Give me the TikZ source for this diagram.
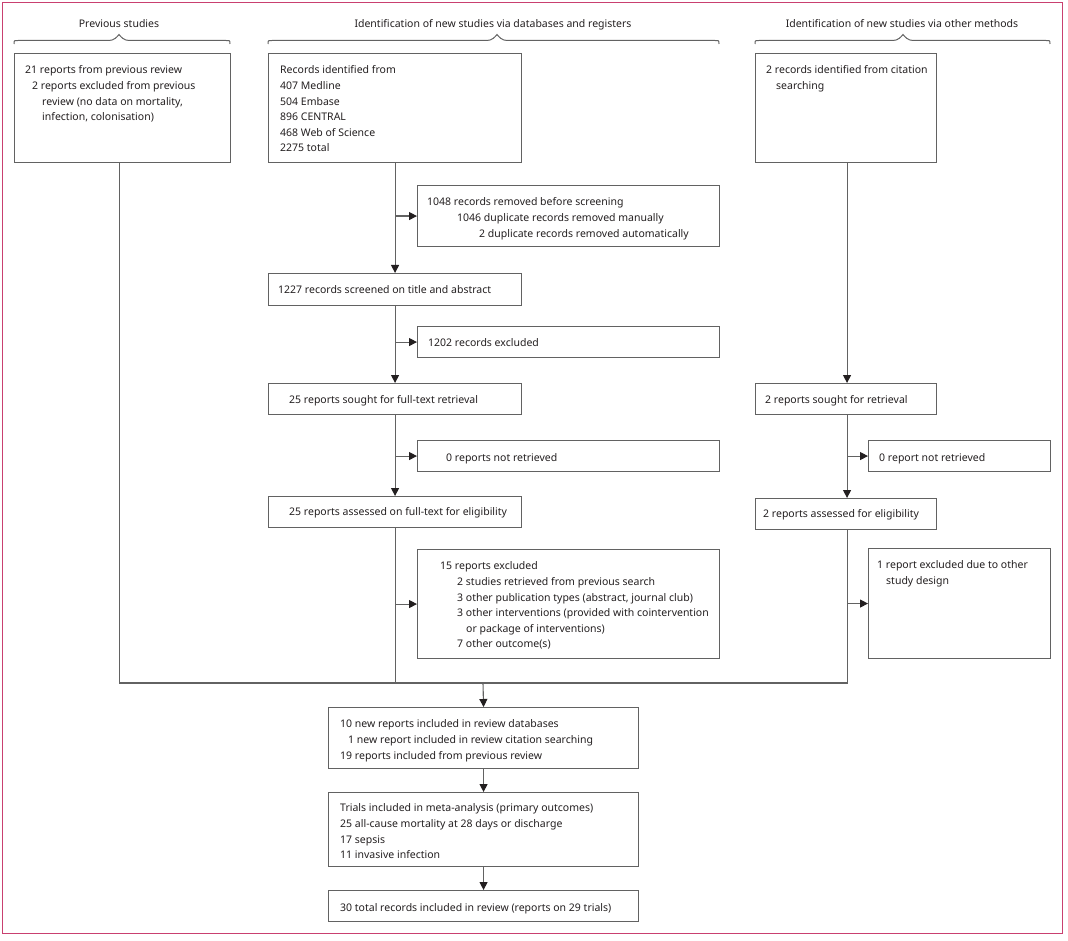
\documentclass[tikz,border=0pt]{standalone}
\usepackage{fontspec}
\setmainfont{Noto Sans}
\usetikzlibrary{arrows.meta}
\definecolor{txt}{HTML}{231F20}
\definecolor{ln}{HTML}{626262}
\definecolor{framec}{HTML}{C94070}
\newcommand\fnt{\fontsize{10.5}{15.6}\selectfont}
\newcommand\mybrace[3]{%
  \draw[bracel] (#1,44) .. controls (#1,40.5) .. ({#1+4},40.5) -- ({#3-10},40.5)
    .. controls ({#3-5},40.5) and ({#3-2},37) .. (#3,34.5)
    .. controls ({#3+2},37) and ({#3+5},40.5) .. ({#3+10},40.5)
    -- ({#2-4},40.5) .. controls (#2,40.5) .. (#2,44);}
\begin{document}
\begin{tikzpicture}[x=1pt,y=-1pt,
  box/.style={draw=ln, line width=1.1pt, rectangle, inner sep=0pt, anchor=north west},
  txtn/.style={anchor=north west, inner sep=0pt, align=left, text=txt, font=\fnt, yshift=6.3pt},
  one/.style={anchor=mid west, inner sep=0pt, text=txt, font=\fnt, yshift=-1.8pt},
  hdr/.style={anchor=mid, inner sep=0pt, text=txt, font=\fnt, yshift=-1.8pt},
  line/.style={draw=ln, line width=1.1pt},
  arr/.style={line, -{Triangle[length=8pt,width=8pt,color=txt]}},
  bracel/.style={draw=ln, line width=1pt}]
\useasboundingbox (0,0) rectangle (1068,941);
\draw[framec, line width=1.3pt] (2.5,2.5) rectangle (1062.5,933.5);

% headers
\node[hdr] (h1) at (119,23) {Previous studies};
\node[hdr] (h2) at (493,23) {Identification of new studies via databases and registers};
\node[hdr] (h3) at (902,23) {Identification of new studies via other methods};
\mybrace{14}{230}{119}
\mybrace{268}{719}{497}
\mybrace{755}{1050}{903}

% boxes
\node[box, minimum width=216pt, minimum height=109pt] (prev) at (14,53) {};
\node[box, minimum width=253pt, minimum height=109pt] (rec) at (268,53) {};
\node[box, minimum width=181pt, minimum height=109pt] (cit) at (755,53) {};
\node[box, minimum width=302pt, minimum height=61pt] (removed) at (417,185) {};
\node[box, minimum width=253pt, minimum height=32pt] (screened) at (268,273) {};
\node[box, minimum width=302pt, minimum height=31pt] (excla) at (417,326) {};
\node[box, minimum width=253pt, minimum height=31pt] (sought) at (268,383) {};
\node[box, minimum width=302pt, minimum height=31pt] (notret) at (417,440) {};
\node[box, minimum width=253pt, minimum height=31pt] (assessed) at (268,496) {};
\node[box, minimum width=302pt, minimum height=109pt] (exclb) at (417,549) {};
\node[box, minimum width=181pt, minimum height=31pt] (soughtb) at (755,383) {};
\node[box, minimum width=182pt, minimum height=31pt] (notretb) at (868,440) {};
\node[box, minimum width=181pt, minimum height=31pt] (assessedb) at (755,498) {};
\node[box, minimum width=182pt, minimum height=110pt] (exclc) at (868,548) {};
\node[box, minimum width=310pt, minimum height=61pt] (included) at (328,707) {};
\node[box, minimum width=310pt, minimum height=74pt] (trials) at (328,792) {};
\node[box, minimum width=310pt, minimum height=31pt] (total) at (328,890) {};

% texts
\node[txtn] (tprev) at (25,69) {\strut 21 reports from previous review\\
  \hspace*{7pt}2 reports excluded from previous\\
  \hspace*{17pt}review (no data on mortality,\\
  \hspace*{17pt}infection, colonisation)};
\node[txtn] (trec) at (280,69) {\strut Records identified from\\407 Medline\\504 Embase\\896 CENTRAL\\468 Web of Science\\2275 total};
\node[txtn] (tcit) at (766,69) {\strut 2 records identified from citation\\\hspace*{10pt}searching};
\node[txtn] (tremoved) at (427,201) {\strut 1048 records removed before screening\\
  \hspace*{30pt}1046 duplicate records removed manually\\
  \hspace*{52pt}2 duplicate records removed automatically};
\node[one] (tscreened) at (278,289) {1227 records screened on title and abstract};
\node[one] (texcla) at (428,342) {1202 records excluded};
\node[one] (tsought) at (289,399) {25 reports sought for full-text retrieval};
\node[one] (tnotret) at (446,457) {0 reports not retrieved};
\node[one] (tassessed) at (289,511) {25 reports assessed on full-text for eligibility};
\node[txtn] (texclb) at (440,565) {\strut 15 reports excluded\\
  \hspace*{17pt}2 studies retrieved from previous search\\
  \hspace*{17pt}3 other publication types (abstract, journal club)\\
  \hspace*{17pt}3 other interventions (provided with cointervention\\
  \hspace*{26pt}or package of interventions)\\
  \hspace*{17pt}7 other outcome(s)};
\node[one] (tsoughtb) at (765,399) {2 reports sought for retrieval};
\node[one] (tnotretb) at (879,457) {0 report not retrieved};
\node[one] (tassessedb) at (763,513) {2 reports assessed for eligibility};
\node[txtn] (texclc) at (877,564) {\strut 1 report excluded due to other\\\hspace*{9pt}study design};
\node[txtn] (tincluded) at (340,723) {\strut 10 new reports included in review databases\\
  \hspace*{8pt}1 new report included in review citation searching\\
  19 reports included from previous review};
\node[txtn] (ttrials) at (340,807) {\strut Trials included in meta-analysis (primary outcomes)\\
  25 all-cause mortality at 28 days or discharge\\17 sepsis\\11 invasive infection};
\node[one] (ttotal) at (340,907) {30 total records included in review (reports on 29 trials)};

% connectors
\coordinate (j) at (483,683);
\draw[arr] (rec.south) -- (screened.north);
\draw[arr] (rec.south |- removed.west) -- (removed.west);
\draw[arr] (screened.south) -- (sought.north);
\draw[arr] (screened.south |- excla.west) -- (excla.west);
\draw[arr] (sought.south) -- (assessed.north);
\draw[arr] (sought.south |- notret.west) -- (notret.west);
\draw[line] (assessed.south) |- (j);
\draw[arr] (assessed.south |- exclb.west) -- (exclb.west);
\draw[line] ([xshift=-3.5pt]prev.south) |- (j);
\draw[arr] ([xshift=1pt]cit.south) -- ([xshift=1pt]soughtb.north);
\draw[arr] ([xshift=1pt]soughtb.south) -- ([xshift=1pt]assessedb.north);
\draw[arr] ([xshift=1pt]soughtb.south |- notretb.west) -- (notretb.west);
\draw[line] ([xshift=1pt]assessedb.south) |- (j);
\draw[arr] ([xshift=1pt]assessedb.south |- exclc.west) -- (exclc.west);
\draw[arr] (j) -- (included.north);
\draw[arr] (included.south) -- (trials.north);
\draw[arr] (trials.south) -- (total.north);
\end{tikzpicture}
\end{document}
